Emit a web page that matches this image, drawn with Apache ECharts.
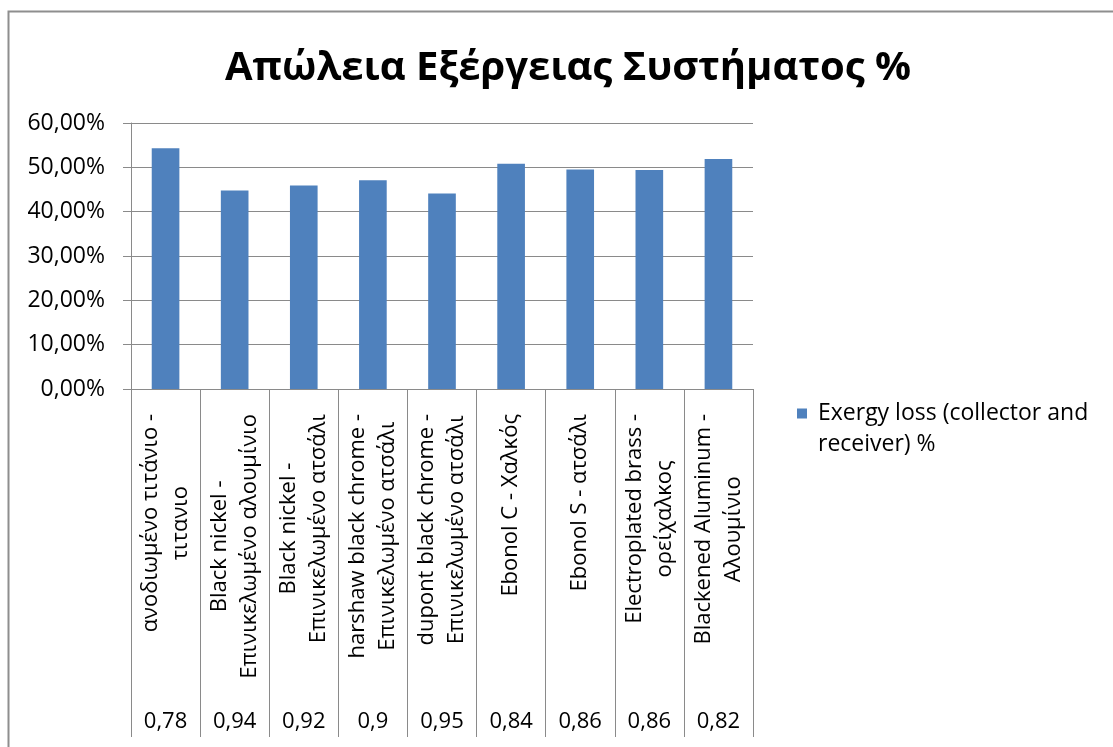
<!DOCTYPE html>
<html>
<head>
<meta charset="utf-8">
<script src="https://cdn.jsdelivr.net/npm/echarts@6/dist/echarts.min.js"></script>
<style>
  html, body { margin: 0; padding: 0; background: #fff; }
  #chart { width: 1113px; height: 747px; }
</style>
</head>
<body>
<div id="chart"></div>
<script>
// Coating / substrate combinations (upper category level)
const categories = [
  'ανοδιωμένο τιτάνιο -\nτιτανιο',
  'Black nickel -\nΕπινικελωμένο αλουμίνιο',
  'Black nickel -\nΕπινικελωμένο ατσάλι',
  'harshaw black chrome -\nΕπινικελωμένο ατσάλι',
  'dupont black chrome -\nΕπινικελωμένο ατσάλι',
  'Ebonol C - Χαλκός',
  'Ebonol S - ατσάλι',
  'Electroplated brass -\nορείχαλκος',
  'Blackened Aluminum -\nΑλουμίνιο'
];
// Absorptance of each coating (lower category level)
const absorptance = [0.78, 0.94, 0.92, 0.9, 0.95, 0.84, 0.86, 0.86, 0.82];
// Exergy loss in percent
const exergyLoss = [54.3, 44.8, 45.9, 47.1, 44.1, 50.8, 49.5, 49.4, 51.9];
const seriesName = 'Exergy loss (collector and receiver) %';
const yTicks = { min: 0, max: 60, interval: 10 };

const FONT = '"Open Sans", "Noto Sans", sans-serif';
const GRID_COLOR = '#8a8a8a';
const LABEL_SIZE = 22;
const LEGEND_SIZE = 23;
const comma = (v, d) => v.toFixed(d).replace('.', ',');
const decimals = v => (String(v).split('.')[1] || '').length;

const chart = echarts.init(document.getElementById('chart'));
chart.setOption({
  animation: false,
  backgroundColor: '#ffffff',
  title: {
    text: 'Απώλεια Εξέργειας Συστήματος %',
    left: 563,
    top: 44,
    textAlign: 'center',
    textStyle: { fontFamily: FONT, fontWeight: 'bold', fontSize: 40, color: '#000' }
  },
  legend: {
    left: 792,
    top: 362,
    orient: 'vertical',
    icon: 'rect',
    itemWidth: 10,
    itemHeight: 10,
    data: [seriesName],
    // wrap after "and"; a blank leading row keeps the first row level with the swatch
    formatter: name => '{s| }\n' + name.replace(/ (receiver)/, '\n$1').split('\n').map(l => '{a|' + l + '}').join('\n'),
    textStyle: {
      fontFamily: FONT, fontSize: LEGEND_SIZE, color: '#000', lineHeight: 31,
      rich: {
        s: { fontSize: LEGEND_SIZE, lineHeight: 31 },
        a: { fontFamily: FONT, fontSize: LEGEND_SIZE, lineHeight: 31, color: '#000', padding: [0, 0, 0, 6] }
      }
    }
  },
  grid: { left: 131, right: 360, top: 123, bottom: 358, containLabel: false },
  xAxis: [
    {
      type: 'category',
      data: categories,
      position: 'bottom',
      axisLine: { show: true, lineStyle: { color: GRID_COLOR, width: 1 } },
      axisTick: { show: true, interval: 0, length: 348, lineStyle: { color: GRID_COLOR, width: 1 } },
      axisLabel: {
        interval: 0,
        rotate: 90,
        margin: 25,
        fontFamily: FONT,
        fontSize: LABEL_SIZE,
        color: '#000',
        lineHeight: 30,
        formatter: v => v.split('\n').map(l => '{c|' + l + '}').join('\n'),
        rich: { c: { align: 'center', fontFamily: FONT, fontSize: LABEL_SIZE, lineHeight: 30, color: '#000' } }
      }
    },
    {
      type: 'category',
      data: absorptance,
      position: 'bottom',
      offset: 318,
      axisLine: { show: false },
      axisTick: { show: false },
      axisLabel: {
        interval: 0,
        margin: 4,
        fontFamily: FONT,
        fontSize: LABEL_SIZE,
        color: '#000',
        formatter: v => comma(Number(v), decimals(v))
      }
    }
  ],
  yAxis: {
    type: 'value',
    min: yTicks.min,
    max: yTicks.max,
    interval: yTicks.interval,
    axisLine: { show: true, lineStyle: { color: GRID_COLOR, width: 1 } },
    axisTick: { show: true, length: 8, lineStyle: { color: GRID_COLOR, width: 1 } },
    splitLine: { show: true, lineStyle: { color: GRID_COLOR, width: 1 } },
    axisLabel: {
      margin: 26,
      fontFamily: FONT,
      fontSize: 23,
      color: '#000',
      formatter: v => comma(v, 2) + '%'
    }
  },
  series: [{
    name: seriesName,
    type: 'bar',
    xAxisIndex: 0,
    data: exergyLoss,
    barWidth: '40%',
    itemStyle: { color: '#4f81bd' }
  }],
  graphic: [{
    type: 'polyline',
    shape: { points: [[8.5, 747], [8.5, 11.5], [1113, 11.5]] },
    style: { stroke: '#8e8e8e', lineWidth: 2, fill: null },
    silent: true
  }]
});
</script>
</body>
</html>
